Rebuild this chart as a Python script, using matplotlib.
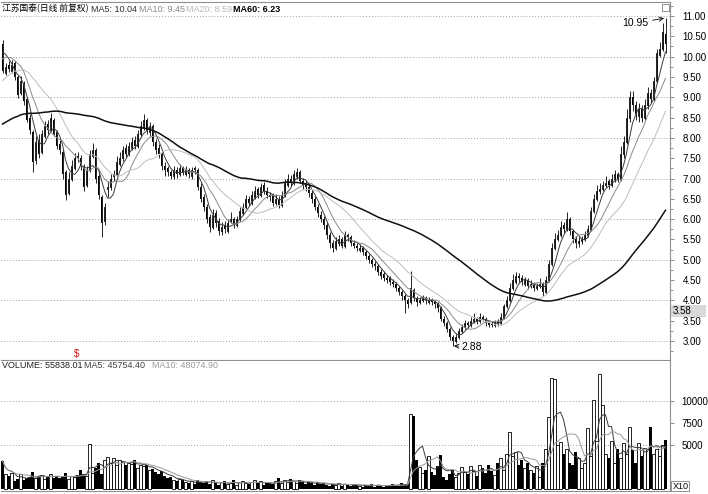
import numpy as np
import pandas as pd
import matplotlib.pyplot as plt
from matplotlib.patches import Rectangle

plt.rcParams['font.family'] = ['Liberation Sans', 'Noto Sans CJK SC', 'DejaVu Sans']

# closes before the first visible candle (only feed the moving averages)
prior_closes = [7.2, 7.3, 7.1, 7.4, 7.5, 7.3, 7.6, 7.8, 7.7, 7.5,
                7.6, 7.4, 7.5, 7.7, 7.9, 7.8, 7.6, 7.7, 7.9, 8.0,
                7.8, 7.6, 7.7, 7.9, 8.1, 8.0, 7.8, 7.9, 8.2, 8.3,
                8.1, 8.0, 7.9, 8.1, 8.3, 8.2, 8.0, 8.1, 8.4,
                8.3, 8.5, 8.6, 8.4, 8.7, 8.9, 9.0, 8.8, 9.1, 9.3,
                9.5, 9.4, 9.7, 9.9, 10.1, 9.8, 10.0, 10.2, 10.4, 10.3]

opens = [10.30, 9.60, 9.80, 9.65, 9.85, 9.50, 9.10, 9.35, 8.95, 8.50,
         8.15, 7.45, 7.95, 7.65, 8.05, 8.35, 8.20, 8.45, 8.15, 7.85,
         7.65, 7.15, 6.65, 7.00, 7.25, 7.55, 7.50, 7.30, 6.85, 7.20,
         7.55, 7.70, 7.05, 6.55, 5.95, 6.75, 6.80, 7.05, 7.10, 7.35,
         7.50, 7.75, 7.60, 7.75, 7.95, 7.80, 8.10, 8.25, 8.45, 8.15,
         8.30, 7.90, 7.75, 7.60, 7.30, 7.25, 7.15, 7.05, 7.20, 7.10,
         7.25, 7.10, 7.20, 7.05, 7.25, 7.20, 6.80, 6.55, 6.30, 6.05,
         5.80, 6.15, 5.95, 5.70, 5.85, 5.70, 5.95, 6.00, 5.85, 6.00,
         6.15, 6.30, 6.50, 6.40, 6.55, 6.75, 6.60, 6.85, 6.70, 6.60,
         6.60, 6.40, 6.50, 6.35, 6.60, 6.85, 7.00, 6.90, 7.05, 7.15,
         6.95, 6.90, 6.80, 6.65, 6.50, 6.30, 6.10, 6.00, 5.85, 5.60,
         5.40, 5.30, 5.40, 5.50, 5.35, 5.60, 5.55, 5.40, 5.35, 5.25,
         5.30, 5.20, 5.10, 5.00, 4.90, 4.85, 4.70, 4.65, 4.55, 4.55,
         4.45, 4.40, 4.30, 4.20, 4.10, 4.00, 3.95, 4.25, 4.05, 3.95,
         4.00, 4.05, 3.95, 4.00, 3.95, 3.90, 3.80, 3.55, 3.45, 3.30,
         3.10, 3.00, 3.10, 3.25, 3.35, 3.45, 3.40, 3.50, 3.55, 3.50,
         3.60, 3.55, 3.45, 3.45, 3.40, 3.50, 3.45, 3.60, 3.85, 4.00,
         4.30, 4.45, 4.60, 4.55, 4.40, 4.50, 4.35, 4.40, 4.30, 4.35,
         4.40, 4.20, 4.50, 4.90, 5.30, 5.50, 5.60, 5.85, 5.75, 6.00,
         5.70, 5.50, 5.40, 5.45, 5.50, 5.60, 5.75, 6.20, 6.50, 6.70,
         6.75, 6.85, 6.95, 6.85, 7.00, 7.10, 7.00, 7.60, 7.90, 8.50,
         9.00, 8.80, 8.55, 8.70, 8.50, 8.80, 9.10, 8.95, 9.40, 10.05,
         10.20, 10.55]

highs = [10.42, 9.85, 9.90, 9.92, 9.90, 9.55, 9.52, 9.40, 9.00, 8.58,
         8.20, 8.05, 8.10, 8.20, 8.42, 8.45, 8.62, 8.50, 8.20, 7.95,
         7.70, 7.20, 7.15, 7.45, 7.62, 7.65, 7.58, 7.35, 7.30, 7.70,
         7.88, 7.75, 7.20, 6.60, 6.40, 6.95, 7.10, 7.20, 7.55, 7.65,
         7.80, 7.85, 7.90, 8.02, 8.05, 8.20, 8.42, 8.60, 8.50, 8.40,
         8.35, 7.98, 7.85, 7.65, 7.40, 7.32, 7.22, 7.30, 7.28, 7.35,
         7.30, 7.30, 7.25, 7.28, 7.32, 7.25, 6.88, 6.62, 6.38, 6.12,
         6.25, 6.22, 6.02, 5.92, 5.95, 6.00, 6.18, 6.05, 6.08, 6.30,
         6.40, 6.60, 6.58, 6.70, 6.82, 6.80, 6.90, 6.92, 6.78, 6.68,
         6.65, 6.62, 6.58, 6.70, 7.00, 7.10, 7.08, 7.20, 7.25, 7.20,
         7.02, 6.95, 6.88, 6.72, 6.58, 6.38, 6.20, 6.08, 5.92, 5.68,
         5.48, 5.55, 5.60, 5.55, 5.70, 5.65, 5.60, 5.48, 5.42, 5.38,
         5.35, 5.25, 5.15, 5.05, 4.98, 4.90, 4.78, 4.72, 4.62, 4.60,
         4.52, 4.45, 4.36, 4.25, 4.15, 4.05, 4.72, 4.30, 4.10, 4.08,
         4.12, 4.10, 4.08, 4.05, 4.00, 3.95, 3.85, 3.62, 3.50, 3.35,
         3.15, 3.18, 3.32, 3.42, 3.52, 3.50, 3.58, 3.68, 3.60, 3.68,
         3.65, 3.60, 3.50, 3.50, 3.52, 3.55, 3.68, 3.92, 4.10, 4.42,
         4.65, 4.70, 4.68, 4.62, 4.58, 4.55, 4.50, 4.45, 4.42, 4.55,
         4.45, 4.60, 5.00, 5.40, 5.65, 5.72, 5.95, 5.92, 6.17, 6.05,
         5.75, 5.58, 5.55, 5.58, 5.70, 5.85, 6.30, 6.62, 6.85, 6.88,
         6.95, 7.05, 7.00, 7.12, 7.20, 7.15, 7.80, 8.05, 8.70, 9.15,
         9.15, 8.90, 8.85, 8.80, 8.95, 9.25, 9.20, 9.50, 10.18, 10.35,
         10.82, 10.95]

lows = [9.60, 9.55, 9.62, 9.60, 9.42, 8.98, 9.05, 8.82, 8.38, 8.10,
        7.15, 7.35, 7.50, 7.60, 8.00, 8.10, 8.15, 8.05, 7.72, 7.60,
        7.00, 6.48, 6.60, 6.95, 7.20, 7.40, 7.22, 6.70, 6.80, 7.15,
        7.50, 6.90, 6.50, 5.56, 5.85, 6.55, 6.72, 6.95, 7.05, 7.30,
        7.42, 7.52, 7.55, 7.70, 7.72, 7.75, 8.05, 8.20, 8.10, 8.05,
        7.80, 7.60, 7.50, 7.20, 7.05, 7.05, 6.98, 7.00, 7.02, 7.05,
        7.08, 7.05, 7.02, 7.00, 7.12, 6.72, 6.42, 6.20, 5.90, 5.68,
        5.75, 5.80, 5.62, 5.62, 5.65, 5.65, 5.90, 5.78, 5.80, 5.95,
        6.10, 6.25, 6.32, 6.35, 6.50, 6.52, 6.55, 6.62, 6.52, 6.45,
        6.32, 6.35, 6.28, 6.30, 6.55, 6.80, 6.82, 6.85, 7.00, 6.88,
        6.75, 6.70, 6.55, 6.40, 6.22, 6.05, 5.92, 5.75, 5.52, 5.30,
        5.19, 5.25, 5.35, 5.28, 5.30, 5.45, 5.35, 5.28, 5.22, 5.20,
        5.12, 5.02, 4.92, 4.82, 4.75, 4.62, 4.52, 4.48, 4.42, 4.38,
        4.32, 4.22, 4.12, 4.02, 3.68, 3.82, 3.90, 3.98, 3.85, 3.90,
        3.95, 3.92, 3.90, 3.88, 3.82, 3.72, 3.48, 3.38, 3.22, 3.02,
        2.88, 2.95, 3.05, 3.20, 3.30, 3.32, 3.35, 3.45, 3.42, 3.45,
        3.48, 3.38, 3.35, 3.34, 3.35, 3.38, 3.40, 3.55, 3.80, 3.95,
        4.25, 4.40, 4.45, 4.38, 4.35, 4.28, 4.30, 4.22, 4.25, 4.30,
        4.10, 4.15, 4.45, 4.85, 5.25, 5.45, 5.55, 5.65, 5.70, 5.62,
        5.40, 5.30, 5.32, 5.38, 5.45, 5.55, 5.70, 6.15, 6.45, 6.62,
        6.70, 6.78, 6.75, 6.80, 6.92, 6.92, 6.95, 7.50, 7.85, 8.40,
        8.65, 8.45, 8.40, 8.38, 8.45, 8.72, 8.85, 8.90, 9.35, 9.98,
        10.15, 10.10]

closes = [9.65, 9.75, 9.70, 9.80, 9.50, 9.05, 9.40, 8.90, 8.45, 8.20,
          7.40, 7.90, 7.60, 8.10, 8.30, 8.20, 8.50, 8.10, 7.80, 7.70,
          7.10, 6.60, 7.00, 7.30, 7.50, 7.50, 7.30, 6.80, 7.20, 7.60,
          7.70, 7.00, 6.60, 5.90, 6.30, 6.80, 7.00, 7.10, 7.40, 7.50,
          7.70, 7.60, 7.80, 7.90, 7.80, 8.10, 8.30, 8.45, 8.20, 8.30,
          7.90, 7.70, 7.60, 7.30, 7.20, 7.15, 7.05, 7.20, 7.10, 7.25,
          7.15, 7.20, 7.10, 7.20, 7.20, 6.80, 6.50, 6.30, 6.00, 5.80,
          6.10, 5.90, 5.70, 5.80, 5.75, 5.90, 6.00, 5.85, 6.00, 6.20,
          6.30, 6.50, 6.40, 6.60, 6.70, 6.60, 6.80, 6.70, 6.60, 6.55,
          6.40, 6.50, 6.35, 6.60, 6.90, 7.00, 6.90, 7.10, 7.15, 6.95,
          6.85, 6.80, 6.65, 6.50, 6.30, 6.15, 6.00, 5.85, 5.60, 5.40,
          5.30, 5.45, 5.50, 5.35, 5.60, 5.55, 5.40, 5.35, 5.30, 5.30,
          5.20, 5.10, 5.00, 4.90, 4.85, 4.70, 4.60, 4.55, 4.50, 4.45,
          4.40, 4.30, 4.20, 4.10, 4.00, 3.90, 4.30, 4.05, 3.95, 4.00,
          4.05, 4.00, 4.00, 3.95, 3.90, 3.80, 3.55, 3.45, 3.30, 3.10,
          3.00, 3.10, 3.25, 3.35, 3.45, 3.40, 3.50, 3.55, 3.50, 3.60,
          3.55, 3.45, 3.40, 3.40, 3.45, 3.45, 3.60, 3.85, 4.00, 4.30,
          4.50, 4.60, 4.55, 4.45, 4.50, 4.35, 4.40, 4.30, 4.35, 4.40,
          4.20, 4.50, 4.90, 5.30, 5.50, 5.60, 5.80, 5.75, 6.00, 5.70,
          5.50, 5.40, 5.45, 5.50, 5.60, 5.75, 6.20, 6.50, 6.70, 6.75,
          6.85, 6.90, 6.85, 7.00, 7.10, 7.00, 7.60, 7.90, 8.50, 9.00,
          8.80, 8.60, 8.70, 8.50, 8.80, 9.10, 8.95, 9.40, 10.10, 10.20,
          10.60, 10.30]

volumes = [32000, 17000, 15000, 18000, 9000, 12000, 17000, 11000, 13000, 14000,
           19000, 13000, 15000, 16000, 12000, 14000, 17000, 13000, 15000, 13000,
           14000, 18000, 12000, 15000, 14000, 16000, 22000, 17000, 15000, 51000,
           18000, 24000, 30000, 17000, 33000, 37000, 30000, 35000, 28000, 33000,
           31000, 27000, 30000, 29000, 33000, 24000, 28000, 26000, 27000, 22000,
           23000, 19000, 17000, 21000, 15000, 13000, 14000, 11000, 9000, 12000,
           10000, 8000, 7000, 9000, 6000, 11000, 8000, 7000, 9000, 6000,
           10000, 7000, 5000, 8000, 9000, 6000, 7000, 10000, 5000, 8000,
           9000, 7000, 6000, 8000, 10000, 7000, 9000, 5000, 8000, 7000,
           6000, 9000, 13000, 7000, 11000, 8000, 12000, 9000, 7000, 10000,
           8000, 6000, 9000, 7000, 5000, 8000, 6000, 7000, 5000, 4000,
           6000, 5000, 7000, 4000, 6000, 5000, 4000, 6000, 5000, 4000,
           3000, 5000, 4000, 6000, 3000, 5000, 4000, 3000, 5000, 4000,
           6000, 5000, 4000, 7000, 5000, 6000, 85000, 83000, 33000, 25000,
           18000, 22000, 38000, 20000, 16000, 26000, 39000, 14000, 10000, 17000,
           22000, 14000, 18000, 25000, 20000, 17000, 26000, 21000, 15000, 28000,
           24000, 18000, 27000, 21000, 16000, 30000, 35000, 22000, 40000, 65000,
           38000, 42000, 28000, 33000, 24000, 30000, 22000, 18000, 26000, 14000,
           30000, 45000, 82000, 126000, 125000, 50000, 53000, 40000, 45000, 30000,
           28000, 42000, 35000, 24000, 30000, 69000, 38000, 101000, 55000, 130000,
           95000, 40000, 35000, 55000, 30000, 45000, 35000, 52000, 40000, 70000,
           44000, 30000, 52000, 38000, 47000, 44970, 70000, 40000, 45000, 38000,
           49932, 55838]

header_name = '江苏国泰(日线 前复权)'
ma_labels = ['MA5: 10.04', 'MA10: 9.45', 'MA20: 8.59', 'MA60: 6.23']
vol_labels = ['VOLUME: 55838.01', 'MA5: 45754.40', 'MA10: 48074.90']
price_ticks = [3.0, 3.5, 4.0, 4.5, 5.0, 5.5, 6.0, 6.5, 7.0, 7.5, 8.0,
               8.5, 9.0, 9.5, 10.0, 10.5, 11.0]
vol_ticks = [5000, 7500, 10000]
last_label = '3.58'

o = np.array(opens)
h = np.array(highs)
l = np.array(lows)
c = np.array(closes)
v = np.array(volumes) / 10.0
x = np.arange(len(c))
up = c >= o

W, H = 708, 494
fig = plt.figure(figsize=(W / 100, H / 100), dpi=100)


def box(left, top, right, bottom):
    return [left / W, 1 - bottom / H, (right - left) / W, (bottom - top) / H]


ax = fig.add_axes(box(1, 2, 670, 360))
axv = fig.add_axes(box(1, 361, 670, 491))

# candles
ax.vlines(x, l, h, color='black', lw=0.6, zorder=2)
ax.bar(x[up], (c - o)[up], bottom=o[up], width=0.64, facecolor='white',
       edgecolor='black', lw=0.6, zorder=3)
ax.bar(x[~up], (o - c)[~up], bottom=c[~up], width=0.64, color='black', lw=0, zorder=3)

# moving averages
full = pd.Series(prior_closes + closes)
ma_colors = ['#3c3c3c', '#8a8a8a', '#bdbdbd', '#101010']
ma_widths = [0.7, 0.7, 0.7, 1.1]
for n, col, lw in zip([5, 10, 20, 60], ma_colors, ma_widths):
    m = full.rolling(n).mean().to_numpy()[len(prior_closes):]
    ax.plot(x, m, color=col, lw=lw, zorder=4)

ax.set_xlim(-0.5, 222.5)
ax.set_ylim(2.532, 11.345)
for g in range(3, 12):
    ax.axhline(g, color='#a0a0a0', lw=0.7, ls=(0, (1, 2)), zorder=0)
ax.yaxis.tick_right()
ax.set_yticks(price_ticks)
ax.set_yticklabels(['%.2f' % t for t in price_ticks], fontsize=7)
ax.set_yticks(np.arange(2.75, 11.3, 0.5), minor=True)
ax.tick_params(axis='y', which='major', length=3, width=0.6, color='#808080', pad=6)
ax.tick_params(axis='y', which='minor', length=2, width=0.6, color='#808080')
ax.set_xticks([])
ax.spines['left'].set_visible(False)
for s in ['top', 'right', 'bottom']:
    ax.spines[s].set_color('#909090')
    ax.spines[s].set_linewidth(0.8)

# annotations of extreme prices
hi_i = int(np.argmax(h))
lo_i = int(np.argmin(l))
ax.annotate('%.2f' % h[hi_i], xy=(hi_i, h[hi_i]), xytext=(-17, -5),
            textcoords='offset pixels', ha='right', va='center', fontsize=7.5,
            arrowprops=dict(arrowstyle='->', lw=0.6, color='black', shrinkA=1, shrinkB=1))
ax.annotate('%.2f' % l[lo_i], xy=(lo_i, l[lo_i]), xytext=(9, -1),
            textcoords='offset pixels', ha='left', va='center', fontsize=7.5,
            arrowprops=dict(arrowstyle='->', lw=0.6, color='black', shrinkA=0, shrinkB=1))

# volume panel
axv.bar(x[up], v[up], width=0.7, facecolor='white', edgecolor='black', lw=0.6)
axv.bar(x[~up], v[~up], width=0.7, color='black', lw=0)
vs = pd.Series(v)
axv.plot(x, vs.rolling(5, min_periods=1).mean(), color='#3c3c3c', lw=0.7)
axv.plot(x, vs.rolling(10, min_periods=1).mean(), color='#9a9a9a', lw=0.7)
axv.set_xlim(-0.5, 222.5)
axv.set_ylim(-190, 14480)
for g in [5000, 10000]:
    axv.axhline(g, color='#a0a0a0', lw=0.7, ls=(0, (1, 2)), zorder=0)
axv.yaxis.tick_right()
axv.set_yticks(vol_ticks)
axv.set_yticklabels([str(t) for t in vol_ticks], fontsize=7)
axv.tick_params(axis='y', length=3, width=0.6, color='#808080', pad=5)
axv.set_xticks([])
axv.spines['left'].set_visible(False)
axv.spines['top'].set_visible(False)
for s in ['right', 'bottom']:
    axv.spines[s].set_color('#909090')
    axv.spines[s].set_linewidth(0.8)

# header texts
fig.text(2 / W, 1 - 9 / H, header_name, fontsize=6.3, va='center',
         family=['Noto Sans CJK SC', 'DejaVu Sans'])
for lab, px, col in zip(ma_labels, [91, 139, 186, 233],
                        ['#303030', '#8a8a8a', '#b8b8b8', '#000000']):
    fig.text(px / W, 1 - 9 / H, lab, fontsize=6.5, va='center', color=col,
             weight='bold' if col == '#000000' else 'normal')
for lab, px, col in zip(vol_labels, [2, 84, 152], ['#202020', '#404040', '#9a9a9a']):
    fig.text(px / W, 1 - 366 / H, lab, fontsize=6.5, va='center', color=col)

fig.text(77 / W, 1 - 354 / H, '$', fontsize=7, color='#d01010', ha='center', va='center')

# last-price box, unit box and corner icon
fig.add_artist(Rectangle((671 / W, 1 - 317 / H), 35 / W, 12 / H,
                         transform=fig.transFigure, facecolor='#d9d9d9', edgecolor='none'))
fig.text(673 / W, 1 - 311 / H, last_label, fontsize=7, va='center')
fig.add_artist(Rectangle((671 / W, 1 - 491 / H), 18 / W, 10 / H, transform=fig.transFigure,
                         facecolor='white', edgecolor='#808080', lw=0.6))
fig.text(673 / W, 1 - 486 / H, 'X10', fontsize=6.5, va='center')
fig.add_artist(Rectangle((662 / W, 1 - 11 / H), 7 / W, 7 / H, transform=fig.transFigure,
                         facecolor='white', edgecolor='#808080', lw=0.6))

fig.savefig('out.png', dpi=100)
